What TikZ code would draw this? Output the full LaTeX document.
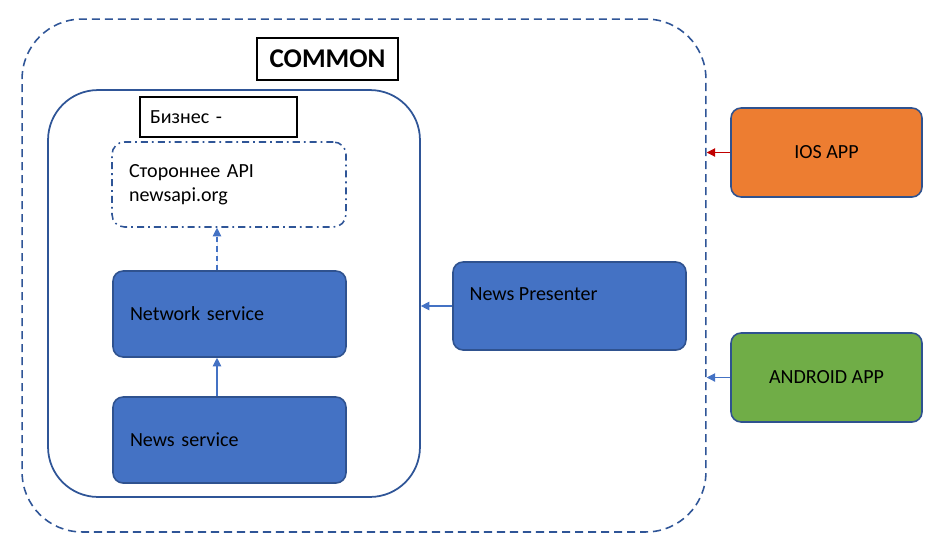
\documentclass[tikz,border=0pt]{standalone}
\usepackage{fontspec}
\setmainfont{Carlito}
\usetikzlibrary{arrows.meta, calc, positioning}
\definecolor{framebl}{HTML}{2F5597}
\definecolor{edgebl}{HTML}{2F528F}
\definecolor{svcbl}{HTML}{4472C4}
\definecolor{iosor}{HTML}{ED7D31}
\definecolor{andgr}{HTML}{70AD47}
\definecolor{iosred}{HTML}{C00000}
\tikzset{
  txt/.style={font=\fontsize{11.4}{13.6}\selectfont},
  svc/.style={txt, draw=edgebl, fill=svcbl, line width=0.9pt, rounded corners=0.2cm,
    minimum width=4.66cm, minimum height=1.72cm, text width=3.98cm, align=left, inner xsep=0.34cm},
  app/.style={txt, draw=edgebl, line width=0.9pt, rounded corners=0.2cm,
    minimum width=3.82cm, minimum height=1.78cm},
  tag/.style={draw=black, line width=0.7pt, inner sep=0pt},
  link/.style={-{Triangle[length=1.7mm,width=1.7mm]}, line width=0.6pt, draw=svcbl, fill=svcbl}
}

\begin{document}
\begin{tikzpicture}[x=0.02cm, y=-0.02cm]
    \useasboundingbox (0,0) rectangle (945,558);
    % frames
    \node[draw=framebl, dashed, dash pattern=on 4.6pt off 2.8pt, line width=0.9pt, rounded corners=1.2cm,
          minimum width=13.68cm, minimum height=10.26cm] (common) at (364,275.5) {};
    \node[draw=framebl, line width=1pt, rounded corners=1cm,
          minimum width=7.44cm, minimum height=8.14cm] (business) at (234,293.5) {};
    \node[tag, minimum width=2.82cm, minimum height=0.84cm, font=\fontsize{15.4}{18}\bfseries] (commontag) at (327.5,59) {COMMON};
    \node[tag, txt, minimum height=0.8cm, text width=2.74cm, align=left, inner xsep=0.2cm] (businesstag) at (218.5,117) {Бизнес -};

    % services
    \node[txt, draw=framebl, dash pattern=on 4pt off 2.3pt on 1pt off 2.3pt, line width=0.9pt, rounded corners=0.25cm,
          minimum width=4.68cm, minimum height=1.7cm, text width=4cm, align=left, inner xsep=0.34cm] (api) at (229,184.5)
          {Стороннее API\\newsapi.org};
    \node[svc] (network) at (229.5,314) {Network service};
    \node[svc] (news) at (229.5,440) {News service};
    \node[svc, minimum height=1.76cm] (presenter) at (569.5,306) {};
    \node[txt, anchor=west, inner sep=0pt] (presentertext) at ([xshift=0.34cm, yshift=-0.66cm]presenter.north west) {News Presenter};

    % apps
    \node[app, fill=iosor] (ios) at (826.5,152.5) {IOS APP};
    \node[app, fill=andgr] (android) at (826.5,377.5) {ANDROID APP};

    % links
    \draw[link] ([xshift=-0.25cm]news.north) -- ([xshift=-0.25cm]network.south);
    \draw[link, dashed, dash pattern=on 3pt off 2.3pt] ([xshift=-0.25cm]network.north) -- ([xshift=-0.25cm]network.north |- api.south);
    \draw[link] (presenter.west) -- (presenter.west -| business.east);
    \draw[link, draw=iosred, fill=iosred] (ios.west) -- (ios.west -| common.east);
    \draw[link] (android.west) -- (android.west -| common.east);
\end{tikzpicture}
\end{document}
